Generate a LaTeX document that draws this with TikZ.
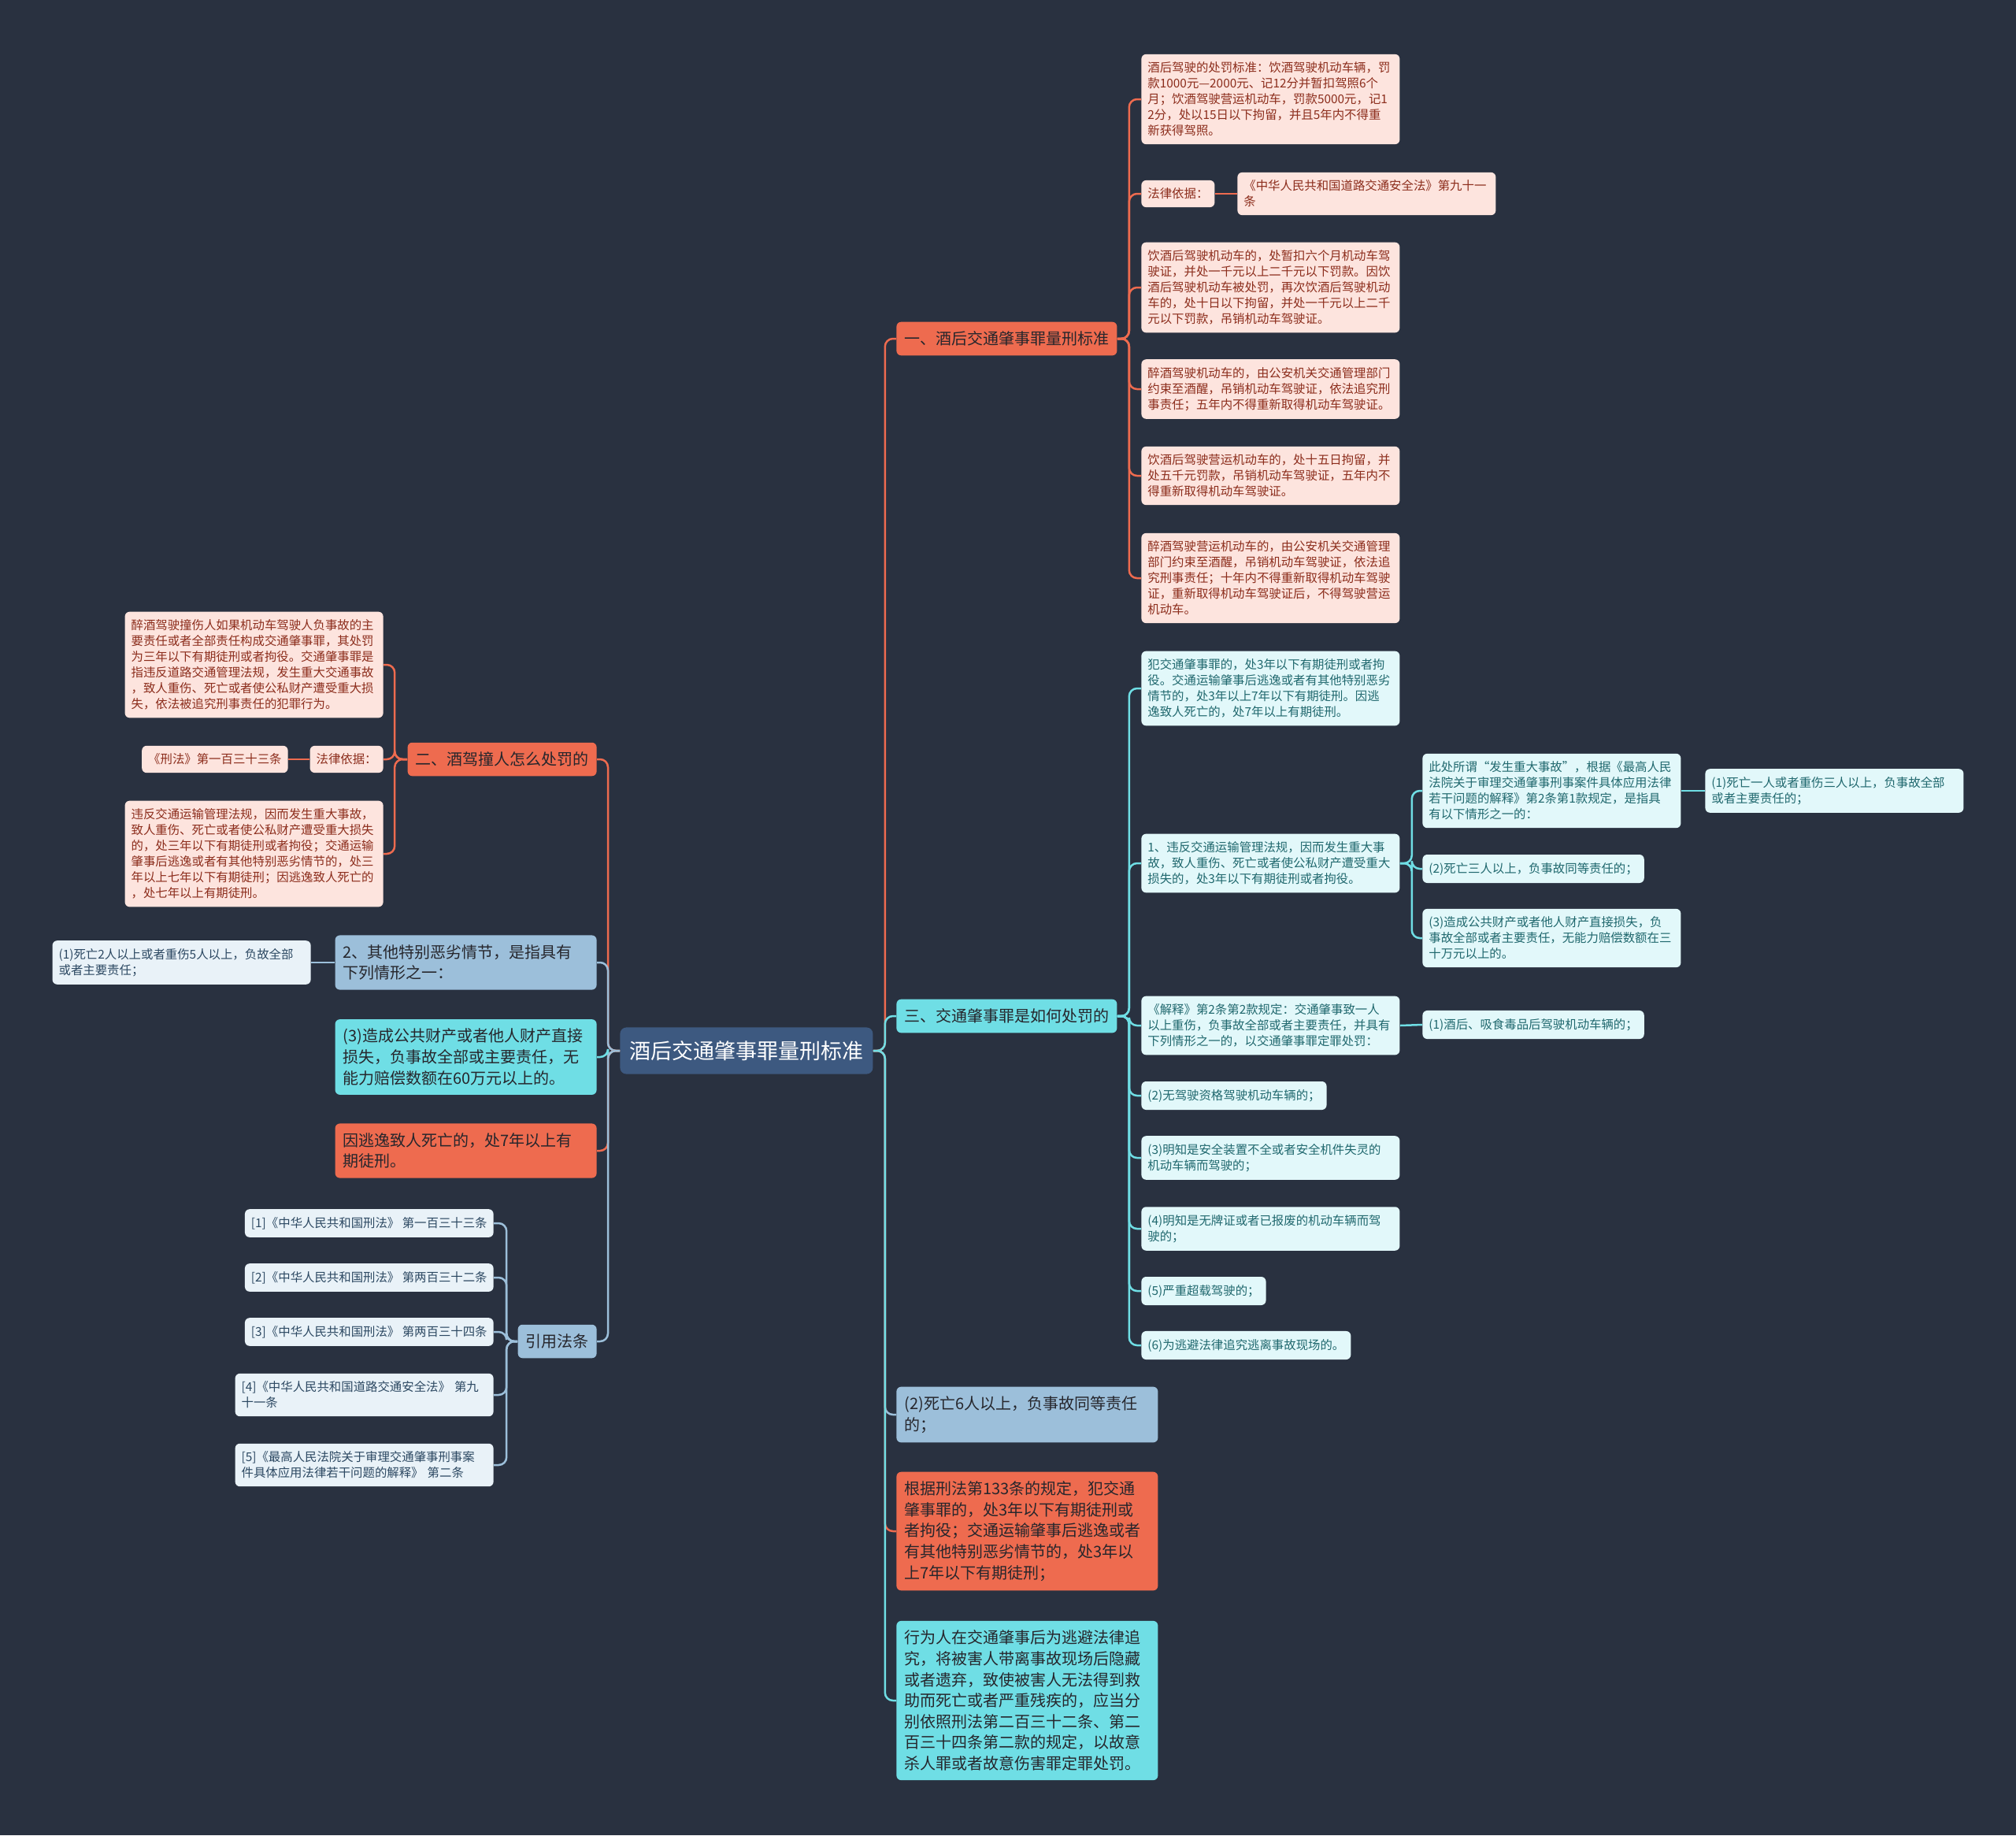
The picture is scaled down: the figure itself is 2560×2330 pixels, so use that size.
\documentclass[tikz,border=0pt]{standalone}
\usepackage{fontspec}
\newfontfamily\cjk{Noto Sans CJK SC}
\definecolor{bgc}{RGB}{41,49,64}
\definecolor{orng}{RGB}{238,107,79}
\definecolor{pinkbg}{RGB}{253,228,222}
\definecolor{pinktx}{RGB}{140,45,28}
\definecolor{cyanbg}{RGB}{111,222,229}
\definecolor{cyanlf}{RGB}{226,248,250}
\definecolor{cyantx}{RGB}{32,104,110}
\definecolor{steel}{RGB}{156,191,218}
\definecolor{palebg}{RGB}{233,242,248}
\definecolor{paletx}{RGB}{44,72,98}
\definecolor{rootbg}{RGB}{61,89,128}
\definecolor{darktx}{RGB}{38,38,44}
\newcommand\smallfont{\cjk\fontsize{7.7}{10}\selectfont}
\newcommand\bigfont{\cjk\fontsize{10}{13.3}\selectfont}
\newcommand\rootfont{\cjk\fontsize{13.5}{16}\selectfont}
\begin{document}
\begin{tikzpicture}[x=0.5pt,y=-0.5pt,
  leafbox/.style={rounded corners=3pt,align=left,inner xsep=4pt,inner ysep=5pt,font=\smallfont},
  wd/.style={text width=156pt},
  pinkleaf/.style={leafbox,fill=pinkbg,text=pinktx},
  cyanleaf/.style={leafbox,fill=cyanlf,text=cyantx},
  paleleaf/.style={leafbox,fill=palebg,text=paletx},
  bigbox/.style={rounded corners=3pt,align=left,inner xsep=5pt,inner ysep=6pt,font=\bigfont,text=darktx},
  orbox/.style={bigbox,fill=orng},
  cybox/.style={bigbox,fill=cyanbg},
  stbox/.style={bigbox,fill=steel},
  lor/.style={draw=orng,line width=1.25pt,rounded corners=5pt},
  lcy/.style={draw=cyanbg,line width=1.25pt,rounded corners=5pt},
  lst/.style={draw=steel,line width=1.25pt,rounded corners=5pt}]
\fill[bgc] (0,0) rectangle (2560,2330);
\useasboundingbox (0,0) rectangle (2560,2330);
\node[fill=rootbg,text=white,font=\rootfont,rounded corners=4pt,inner xsep=6pt,inner ysep=8.5pt,anchor=west] (root) at (787,1334) {酒后交通肇事罪量刑标准};
% right side
\node[orbox,anchor=west] (b1) at (1138,430) {一、酒后交通肇事罪量刑标准};
\node[pinkleaf,wd,anchor=west] (p1) at (1449,126) {酒后驾驶的处罚标准：饮酒驾驶机动车辆，罚\\款1000元—2000元、记12分并暂扣驾照6个\\月；饮酒驾驶营运机动车，罚款5000元，记1\\2分，处以15日以下拘留，并且5年内不得重\\新获得驾照。};
\node[pinkleaf,anchor=west] (p2) at (1449,246) {法律依据：};
\node[pinkleaf,wd,anchor=west] (p2a) at (1571,246) {《中华人民共和国道路交通安全法》第九十一\\条};
\node[pinkleaf,wd,anchor=west] (p3) at (1449,365) {饮酒后驾驶机动车的，处暂扣六个月机动车驾\\驶证，并处一千元以上二千元以下罚款。因饮\\酒后驾驶机动车被处罚，再次饮酒后驾驶机动\\车的，处十日以下拘留，并处一千元以上二千\\元以下罚款，吊销机动车驾驶证。};
\node[pinkleaf,wd,anchor=west] (p4) at (1449,494) {醉酒驾驶机动车的，由公安机关交通管理部门\\约束至酒醒，吊销机动车驾驶证，依法追究刑\\事责任；五年内不得重新取得机动车驾驶证。};
\node[pinkleaf,wd,anchor=west] (p5) at (1449,604) {饮酒后驾驶营运机动车的，处十五日拘留，并\\处五千元罚款，吊销机动车驾驶证，五年内不\\得重新取得机动车驾驶证。};
\node[pinkleaf,wd,anchor=west] (p6) at (1449,734) {醉酒驾驶营运机动车的，由公安机关交通管理\\部门约束至酒醒，吊销机动车驾驶证，依法追\\究刑事责任；十年内不得重新取得机动车驾驶\\证，重新取得机动车驾驶证后，不得驾驶营运\\机动车。};
\node[cybox,anchor=west] (b3) at (1138,1290) {三、交通肇事罪是如何处罚的};
\node[cyanleaf,wd,anchor=west] (q1) at (1449,874) {犯交通肇事罪的，处3年以下有期徒刑或者拘\\役。交通运输肇事后逃逸或者有其他特别恶劣\\情节的，处3年以上7年以下有期徒刑。因逃\\逸致人死亡的，处7年以上有期徒刑。};
\node[cyanleaf,wd,anchor=west] (q2) at (1449,1096) {1、违反交通运输管理法规，因而发生重大事\\故，致人重伤、死亡或者使公私财产遭受重大\\损失的，处3年以下有期徒刑或者拘役。};
\node[cyanleaf,wd,anchor=west] (q2a) at (1806,1004) {此处所谓“发生重大事故”，根据《最高人民\\法院关于审理交通肇事刑事案件具体应用法律\\若干问题的解释》第2条第1款规定，是指具\\有以下情形之一的：};
\node[cyanleaf,wd,anchor=west] (q2aa) at (2165,1004) {(1)死亡一人或者重伤三人以上，负事故全部\\或者主要责任的；};
\node[cyanleaf,anchor=west] (q2b) at (1806,1103) {(2)死亡三人以上，负事故同等责任的；};
\node[cyanleaf,wd,anchor=west] (q2c) at (1806,1191) {(3)造成公共财产或者他人财产直接损失，负\\事故全部或者主要责任，无能力赔偿数额在三\\十万元以上的。};
\node[cyanleaf,wd,anchor=west] (q3) at (1449,1302) {《解释》第2条第2款规定：交通肇事致一人\\以上重伤，负事故全部或者主要责任，并具有\\下列情形之一的，以交通肇事罪定罪处罚：};
\node[cyanleaf,anchor=west] (q3a) at (1806,1301) {(1)酒后、吸食毒品后驾驶机动车辆的；};
\node[cyanleaf,anchor=west] (q4) at (1449,1391) {(2)无驾驶资格驾驶机动车辆的；};
\node[cyanleaf,wd,anchor=west] (q5) at (1449,1470) {(3)明知是安全装置不全或者安全机件失灵的\\机动车辆而驾驶的；};
\node[cyanleaf,wd,anchor=west] (q6) at (1449,1560) {(4)明知是无牌证或者已报废的机动车辆而驾\\驶的；};
\node[cyanleaf,anchor=west] (q7) at (1449,1639) {(5)严重超载驾驶的；};
\node[cyanleaf,anchor=west] (q8) at (1449,1708) {(6)为逃避法律追究逃离事故现场的。};
\node[stbox,wd,anchor=west] (r4) at (1138,1796) {(2)死亡6人以上，负事故同等责任\\的；};
\node[orbox,wd,anchor=west] (r5) at (1138,1944) {根据刑法第133条的规定，犯交通\\肇事罪的，处3年以下有期徒刑或\\者拘役；交通运输肇事后逃逸或者\\有其他特别恶劣情节的，处3年以\\上7年以下有期徒刑；};
\node[cybox,wd,anchor=west] (r6) at (1138,2159) {行为人在交通肇事后为逃避法律追\\究，将被害人带离事故现场后隐藏\\或者遗弃，致使被害人无法得到救\\助而死亡或者严重残疾的，应当分\\别依照刑法第二百三十二条、第二\\百三十四条第二款的规定，以故意\\杀人罪或者故意伤害罪定罪处罚。};
% left side
\node[orbox,anchor=east] (b2) at (758,964) {二、酒驾撞人怎么处罚的};
\node[pinkleaf,wd,anchor=east] (la) at (487,844) {醉酒驾驶撞伤人如果机动车驾驶人负事故的主\\要责任或者全部责任构成交通肇事罪，其处罚\\为三年以下有期徒刑或者拘役。交通肇事罪是\\指违反道路交通管理法规，发生重大交通事故\\，致人重伤、死亡或者使公私财产遭受重大损\\失，依法被追究刑事责任的犯罪行为。};
\node[pinkleaf,anchor=east] (lf) at (487,964) {法律依据：};
\node[pinkleaf,anchor=east] (lfa) at (366,964) {《刑法》第一百三十三条};
\node[pinkleaf,wd,anchor=east] (lb) at (487,1084) {违反交通运输管理法规，因而发生重大事故，\\致人重伤、死亡或者使公私财产遭受重大损失\\的，处三年以下有期徒刑或者拘役；交通运输\\肇事后逃逸或者有其他特别恶劣情节的，处三\\年以上七年以下有期徒刑；因逃逸致人死亡的\\，处七年以上有期徒刑。};
\node[stbox,wd,anchor=east] (l2) at (758,1222) {2、其他特别恶劣情节，是指具有\\下列情形之一：};
\node[paleleaf,wd,anchor=east] (l2a) at (395,1222) {(1)死亡2人以上或者重伤5人以上，负故全部\\或者主要责任；};
\node[cybox,wd,anchor=east] (l3) at (758,1342) {(3)造成公共财产或者他人财产直接\\损失，负事故全部或主要责任，无\\能力赔偿数额在60万元以上的。};
\node[orbox,wd,anchor=east] (l4) at (758,1461) {因逃逸致人死亡的，处7年以上有\\期徒刑。};
\node[stbox,anchor=east] (l5) at (758,1703) {引用法条};
\node[paleleaf,anchor=east] (ref1) at (627,1553) {[1]《中华人民共和国刑法》 第一百三十三条};
\node[paleleaf,anchor=east] (ref2) at (627,1622) {[2]《中华人民共和国刑法》 第两百三十二条};
\node[paleleaf,anchor=east] (ref3) at (627,1691) {[3]《中华人民共和国刑法》 第两百三十四条};
\node[paleleaf,wd,anchor=east] (ref4) at (627,1771) {[4]《中华人民共和国道路交通安全法》 第九\\十一条};
\node[paleleaf,wd,anchor=east] (ref5) at (627,1860) {[5]《最高人民法院关于审理交通肇事刑事案\\件具体应用法律若干问题的解释》 第二条};
% connectors
\draw[lor] (root.east) -- ++(15,0) |- (b1.west);
\draw[lcy] (root.east) -- ++(15,0) |- (b3.west);
\draw[lst] (root.east) -- ++(15,0) |- (r4.west);
\draw[lor] (root.east) -- ++(15,0) |- (r5.west);
\draw[lcy] (root.east) -- ++(15,0) |- (r6.west);
\draw[lor] (root.west) -- ++(-15,0) |- (b2.east);
\draw[lst] (root.west) -- ++(-15,0) |- (l2.east);
\draw[lcy] (root.west) -- ++(-15,0) |- (l3.east);
\draw[lor] (root.west) -- ++(-15,0) |- (l4.east);
\draw[lst] (root.west) -- ++(-15,0) |- (l5.east);
\foreach \n in {p1,p2,p3,p4,p5,p6} \draw[lor] (b1.east) -- ++(15,0) |- (\n.west);
\draw[lor] (p2.east) -- (p2a.west);
\foreach \n in {q1,q2,q3,q4,q5,q6,q7,q8} \draw[lcy] (b3.east) -- ++(15,0) |- (\n.west);
\foreach \n in {q2a,q2b,q2c} \draw[lcy] (q2.east) -- ++(15,0) |- (\n.west);
\draw[lcy] (q2a.east) -- (q2aa.west);
\draw[lcy] (q3.east) -- (q3a.west);
\foreach \n in {la,lf,lb} \draw[lor] (b2.west) -- ++(-16,0) |- (\n.east);
\draw[lor] (lf.west) -- (lfa.east);
\draw[lst] (l2.west) -- (l2a.east);
\foreach \n in {ref1,ref2,ref3,ref4,ref5} \draw[lst] (l5.west) -- ++(-14,0) |- (\n.east);
\end{tikzpicture}
\end{document}
